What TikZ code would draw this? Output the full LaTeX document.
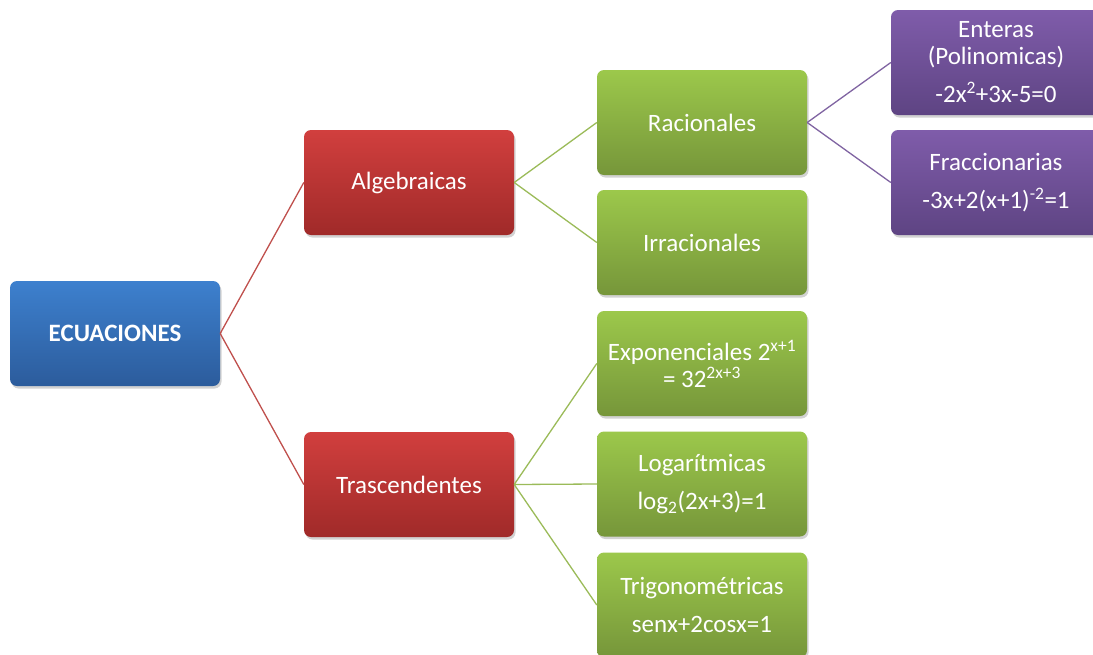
\documentclass[tikz,border=0pt]{standalone}
\usepackage{fontspec}
\setmainfont{Carlito}
\usetikzlibrary{shadows}
\definecolor{bluetop}{HTML}{3D80CE}
\definecolor{bluebot}{HTML}{2C5C9C}
\definecolor{redtop}{HTML}{D13F3E}
\definecolor{redbot}{HTML}{A02A29}
\definecolor{greentop}{HTML}{9CC84B}
\definecolor{greenbot}{HTML}{76963A}
\definecolor{purptop}{HTML}{7F5CAA}
\definecolor{purpbot}{HTML}{5E4483}
\definecolor{redline}{HTML}{C0504D}
\definecolor{greenline}{HTML}{9BBB59}
\definecolor{purpline}{HTML}{8064A2}
\tikzset{
  box/.style={rectangle, rounded corners=7pt, minimum width=210pt, minimum height=105pt,
    inner sep=2pt, align=center, text=white, font=\fontsize{25}{27}\selectfont,
    drop shadow={shadow xshift=1.5pt, shadow yshift=-2.5pt, opacity=0.35}},
  bluebox/.style={box, top color=bluetop, bottom color=bluebot},
  redbox/.style={box, top color=redtop, bottom color=redbot},
  greenbox/.style={box, top color=greentop, bottom color=greenbot},
  purpbox/.style={box, top color=purptop, bottom color=purpbot},
  link/.style={line width=1.3pt}
}
\begin{document}
\begin{tikzpicture}[x=1pt,y=-1pt]
\clip (0,0) rectangle (1093,654);
\fill[white] (0,0) rectangle (1093,654);
\node[bluebox] (root) at (115,333.5) {\textbf{ECUACIONES}};
\node[redbox] (alg) at (409,182.5) {Algebraicas};
\node[redbox] (tra) at (409,484.5) {Trascendentes};
\node[greenbox] (rac) at (702,122.5) {Racionales};
\node[greenbox] (irr) at (702,242.5) {Irracionales};
\node[greenbox] (exp) at (702,363.5) {Exponenciales 2\textsuperscript{x+1}\\= 32\textsuperscript{2x+3}};
\node[greenbox] (log) at (702,484) {Logarítmicas\\[11pt]log\textsubscript{2}(2x+3)=1};
\node[greenbox] (tri) at (702,605) {Trigonométricas\\[11pt]senx+2cosx=1};
\node[purpbox] (ent) at (996,62.5) {Enteras\\(Polinomicas)\\[11pt]-2x\textsuperscript{2}+3x-5=0};
\node[purpbox] (fra) at (996,182.5) {Fraccionarias\\[11pt]-3x+2(x+1)\textsuperscript{-2}=1};
\draw[link, redline] (root.east) -- (alg.west);
\draw[link, redline] (root.east) -- (tra.west);
\draw[link, greenline] (alg.east) -- (rac.west);
\draw[link, greenline] (alg.east) -- (irr.west);
\draw[link, greenline] (tra.east) -- (exp.west);
\draw[link, greenline] (tra.east) -- (log.west);
\draw[link, greenline] (tra.east) -- (tri.west);
\draw[link, purpline] (rac.east) -- (ent.west);
\draw[link, purpline] (rac.east) -- (fra.west);
\end{tikzpicture}
\end{document}
